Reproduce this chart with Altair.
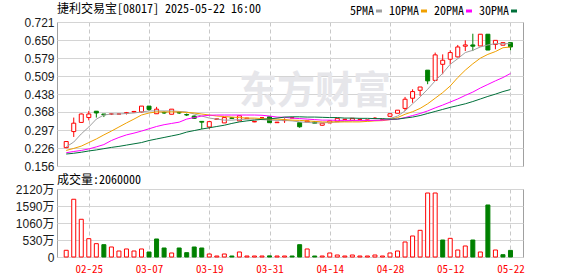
import altair as alt
import pandas as pd

# ---------------- data ----------------
dates = ["02-20", "02-21", "02-24", "02-25", "02-26", "02-27", "02-28",
         "03-03", "03-04", "03-05", "03-06", "03-07", "03-10", "03-11", "03-12", "03-13", "03-14",
         "03-17", "03-18", "03-19", "03-20", "03-21", "03-24", "03-25", "03-26", "03-27", "03-28", "03-31",
         "04-01", "04-02", "04-03", "04-08", "04-09", "04-10", "04-11", "04-14",
         "04-15", "04-16", "04-17", "04-22", "04-23", "04-24", "04-25", "04-28", "04-29", "04-30",
         "05-02", "05-06", "05-07", "05-08", "05-09", "05-12", "05-13", "05-14", "05-15", "05-16",
         "05-19", "05-20", "05-21", "05-22"]
tick_dates = ["02-25", "03-07", "03-19", "03-31", "04-14", "04-28", "05-12", "05-22"]

open_ = [0.228, 0.291, 0.327, 0.346, 0.371, 0.360, 0.360, 0.360, 0.363, 0.368,
         0.368, 0.391, 0.361, 0.366, 0.359, 0.366, 0.358, 0.352, 0.331, 0.309,
         0.339, 0.325, 0.345, 0.333, 0.342, 0.329, 0.345, 0.349, 0.326, 0.334,
         0.345, 0.326, 0.329, 0.329, 0.316, 0.325, 0.330, 0.339, 0.335, 0.339,
         0.336, 0.343, 0.339, 0.351, 0.363, 0.382, 0.422, 0.453, 0.532, 0.492,
         0.555, 0.575, 0.584, 0.626, 0.631, 0.627, 0.673, 0.633, 0.630, 0.640]
close = [0.252, 0.324, 0.360, 0.360, 0.364, 0.357, 0.360, 0.360, 0.365, 0.370,
         0.391, 0.378, 0.379, 0.364, 0.379, 0.364, 0.356, 0.343, 0.328, 0.330,
         0.341, 0.346, 0.343, 0.353, 0.344, 0.331, 0.345, 0.326, 0.328, 0.336,
         0.345, 0.310, 0.333, 0.324, 0.324, 0.333, 0.343, 0.339, 0.343, 0.339,
         0.336, 0.343, 0.339, 0.361, 0.375, 0.418, 0.448, 0.466, 0.490, 0.592,
         0.571, 0.601, 0.623, 0.631, 0.626, 0.673, 0.611, 0.649, 0.640, 0.623]
high = [0.254, 0.346, 0.362, 0.372, 0.371, 0.360, 0.362, 0.361, 0.368, 0.372,
        0.391, 0.391, 0.388, 0.370, 0.379, 0.370, 0.362, 0.354, 0.331, 0.331,
        0.342, 0.346, 0.348, 0.353, 0.345, 0.332, 0.346, 0.349, 0.329, 0.343,
        0.346, 0.326, 0.334, 0.330, 0.324, 0.334, 0.343, 0.340, 0.343, 0.340,
        0.337, 0.348, 0.340, 0.361, 0.375, 0.427, 0.457, 0.466, 0.532, 0.601,
        0.594, 0.610, 0.631, 0.649, 0.675, 0.673, 0.673, 0.649, 0.640, 0.640]
low = [0.226, 0.270, 0.327, 0.335, 0.346, 0.348, 0.356, 0.359, 0.358, 0.366,
       0.366, 0.372, 0.361, 0.360, 0.359, 0.360, 0.352, 0.341, 0.301, 0.302,
       0.338, 0.325, 0.341, 0.333, 0.342, 0.328, 0.344, 0.326, 0.325, 0.325,
       0.344, 0.306, 0.328, 0.324, 0.314, 0.325, 0.330, 0.338, 0.335, 0.338,
       0.335, 0.343, 0.338, 0.351, 0.363, 0.372, 0.404, 0.431, 0.477, 0.492,
       0.516, 0.555, 0.582, 0.607, 0.607, 0.627, 0.611, 0.614, 0.630, 0.610]

ma5 = [0.231, 0.250, 0.282, 0.309, 0.340, 0.356, 0.360, 0.360, 0.362, 0.364,
       0.368, 0.372, 0.372, 0.372, 0.372, 0.370, 0.368, 0.360, 0.352, 0.344,
       0.340, 0.336, 0.336, 0.338, 0.340, 0.340, 0.338, 0.336, 0.335, 0.335,
       0.333, 0.329, 0.327, 0.325, 0.325, 0.327, 0.329, 0.331, 0.333, 0.333,
       0.333, 0.335, 0.336, 0.342, 0.352, 0.372, 0.400, 0.427, 0.457, 0.490,
       0.520, 0.555, 0.577, 0.601, 0.610, 0.623, 0.631, 0.636, 0.636, 0.636]
ma10 = [0.217, 0.225, 0.234, 0.248, 0.262, 0.278, 0.293, 0.309, 0.325, 0.340,
        0.356, 0.364, 0.368, 0.368, 0.368, 0.368, 0.366, 0.364, 0.360, 0.356,
        0.352, 0.350, 0.348, 0.346, 0.344, 0.344, 0.342, 0.340, 0.340, 0.338,
        0.336, 0.335, 0.333, 0.331, 0.329, 0.329, 0.329, 0.329, 0.329, 0.329,
        0.331, 0.333, 0.334, 0.338, 0.346, 0.359, 0.369, 0.382, 0.400, 0.422,
        0.444, 0.470, 0.503, 0.532, 0.557, 0.579, 0.594, 0.605, 0.620, 0.623]
ma20 = [0.208, 0.213, 0.217, 0.223, 0.231, 0.240, 0.256, 0.268, 0.278, 0.285,
        0.293, 0.302, 0.311, 0.318, 0.323, 0.328, 0.340, 0.346, 0.352, 0.355,
        0.356, 0.356, 0.356, 0.356, 0.356, 0.356, 0.355, 0.352, 0.348, 0.347,
        0.344, 0.342, 0.340, 0.338, 0.336, 0.336, 0.335, 0.335, 0.335, 0.335,
        0.335, 0.335, 0.336, 0.338, 0.340, 0.346, 0.354, 0.362, 0.372, 0.384,
        0.395, 0.407, 0.419, 0.433, 0.446, 0.462, 0.476, 0.490, 0.503, 0.519]
ma30 = [0.203, 0.206, 0.210, 0.215, 0.219, 0.224, 0.229, 0.233, 0.238, 0.243,
        0.248, 0.256, 0.262, 0.268, 0.274, 0.280, 0.289, 0.295, 0.301, 0.306,
        0.311, 0.316, 0.323, 0.329, 0.333, 0.336, 0.339, 0.341, 0.344, 0.348,
        0.349, 0.349, 0.348, 0.348, 0.347, 0.346, 0.346, 0.344, 0.344, 0.343,
        0.343, 0.342, 0.342, 0.340, 0.340, 0.344, 0.348, 0.354, 0.362, 0.370,
        0.378, 0.386, 0.393, 0.400, 0.409, 0.419, 0.429, 0.438, 0.448, 0.456]

# volume in 万 (10k shares)
vol = [209, 1800, 1176, 571, 416, 384, 312, 187, 250, 187,
       250, 156, 562, 281, 125, 281, 135, 312, 281, 94,
       31, 94, 31, 156, 31, 31, 31, 35, 31, 31,
       31, 384, 250, 31, 31, 125, 62, 31, 62, 31,
       31, 62, 31, 125, 187, 468, 655, 832, 1995, 1995,
       530, 582, 218, 343, 530, 156, 1622, 218, 72, 206]
vol_up = [1, 1, 1, 1, 1, 0, 1, 1, 1, 1,
          1, 0, 0, 0, 1, 0, 0, 0, 0, 1,
          1, 1, 0, 1, 1, 1, 1, 0, 1, 1,
          0, 0, 1, 0, 1, 1, 1, 1, 1, 1,
          1, 1, 1, 1, 1, 1, 1, 1, 1, 1,
          0, 1, 1, 1, 0, 1, 0, 1, 0, 0]

price_ticks = [0.156, 0.226, 0.297, 0.368, 0.438, 0.509, 0.579, 0.650, 0.721]
vol_ticks = [0, 530, 1060, 1590, 2120]
ma_names = ["5PMA", "10PMA", "20PMA", "30PMA"]
ma_colors = ["#a0a0a0", "#f0a000", "#ff00ff", "#00703a"]
title_text = "捷利交易宝[08017] 2025-05-22 16:00"
vol_title = "成交量:2060000"
watermark = ["东方财富"]

# ---------------- tables ----------------
n = len(dates)
idx = list(range(n))
tick_pos = [dates.index(d) for d in tick_dates]

candles = pd.DataFrame({"i": idx, "date": dates, "open": open_, "high": high,
                        "low": low, "close": close})
candles["dir"] = ["up" if c >= o else "down" for o, c in zip(open_, close)]
ma_df = pd.concat([pd.DataFrame({"i": idx, "series": nm, "v": vals})
                   for nm, vals in zip(ma_names, [ma5, ma10, ma20, ma30])])
vol_df = pd.DataFrame({"i": idx, "vol": vol,
                       "dir": ["up" if u else "down" for u in vol_up]})

RED = "#ff0000"
GREEN = "#008000"
GRID = "#d4d4d4"
stroke_scale = alt.Scale(domain=["up", "down"], range=[RED, GREEN])
fill_scale = alt.Scale(domain=["up", "down"], range=["#ffffff", GREEN])
x_scale = alt.Scale(domain=[-0.56, 60.0], nice=False, zero=False)
label_expr = "[" + ",".join("'%s'" % d for d in dates) + "][datum.value]"
NUMFONT = "Liberation Sans, Noto Sans CJK SC"
MONOCJK = "Noto Sans Mono CJK SC, Noto Sans CJK SC"

x_price = alt.X("i:Q", scale=x_scale,
                axis=alt.Axis(values=tick_pos, labels=False, ticks=False, domain=False,
                              grid=True, gridDash=[4, 3], gridColor="#c8c8c8", title=None))
y_axis_price = alt.Axis(values=price_ticks, format=".3f", ticks=False, domain=False,
                        grid=True, gridColor=GRID, labelFont=NUMFONT, labelFontSize=12,
                        labelColor="#1a1a1a", labelPadding=3, title=None, minExtent=42)
y_scale_price = alt.Scale(domain=[0.156, 0.721], nice=False, zero=False)

wm = alt.Chart(pd.DataFrame({"t": watermark})).mark_text(
    font="Noto Sans CJK SC", fontSize=38, fontWeight="bold", color="#e6e6ea"
).encode(text="t:N", x=alt.value(258), y=alt.value(70))

wick = alt.Chart(candles).mark_rule(strokeWidth=1).encode(
    x=x_price,
    y=alt.Y("low:Q", scale=y_scale_price, axis=y_axis_price),
    y2="high:Q",
    stroke=alt.Stroke("dir:N", scale=stroke_scale, legend=None),
)
body = alt.Chart(candles).mark_bar(size=4, strokeWidth=1).encode(
    x=x_price,
    y=alt.Y("open:Q", scale=y_scale_price, axis=y_axis_price),
    y2="close:Q",
    stroke=alt.Stroke("dir:N", scale=stroke_scale, legend=None),
    fill=alt.Fill("dir:N", scale=fill_scale, legend=None),
)
lines = alt.Chart(ma_df).mark_line(strokeWidth=1).encode(
    x=x_price,
    y=alt.Y("v:Q", scale=y_scale_price, axis=y_axis_price),
    color=alt.Color("series:N", sort=ma_names,
                    scale=alt.Scale(domain=ma_names, range=ma_colors),
                    legend=alt.Legend(title=None, orient="none", direction="horizontal",
                                      legendX=316, legendY=-17, symbolType="stroke",
                                      symbolStrokeWidth=3, symbolSize=36,
                                      labelFont="Noto Sans Mono CJK SC, Liberation Mono",
                                      labelFontSize=12,
                                      labelColor="#000000", labelAlign="right",
                                      labelOffset={"expr": "-11"}, columnPadding=0,
                                      padding=0)),
)

price = alt.layer(wm, wick, body, lines).properties(
    width=466, height=144,
    title=alt.TitleParams(title_text, anchor="start", frame="group", font=MONOCJK,
                          fontSize=12, fontWeight="normal", color="#000000", offset=0),
)

vol_chart = alt.Chart(vol_df).mark_bar(size=4, strokeWidth=1).encode(
    x=alt.X("i:Q", scale=x_scale,
            axis=alt.Axis(values=tick_pos, labelExpr=label_expr, labelColor=RED,
                          labelFont="Noto Sans Mono CJK SC, Liberation Mono", labelFontSize=11,
                          labelPadding=6, labelFlush=False, labelOverlap=False,
                          ticks=False, domain=False, grid=True, gridDash=[4, 3],
                          gridColor="#c8c8c8", title=None)),
    y=alt.Y("vol:Q", scale=alt.Scale(domain=[0, 2120], nice=False, zero=True),
            axis=alt.Axis(values=vol_ticks,
                          labelExpr="datum.value == 0 ? '0' : datum.value + '万'",
                          ticks=False, domain=False, grid=True, gridColor=GRID,
                          labelFont=NUMFONT, labelFontSize=12, labelColor="#1a1a1a",
                          labelPadding=3, title=None, minExtent=42)),
    stroke=alt.Stroke("dir:N", scale=stroke_scale, legend=None),
    fill=alt.Fill("dir:N", scale=fill_scale, legend=None),
).properties(
    width=466, height=68,
    title=alt.TitleParams(vol_title, anchor="start", frame="group", font=MONOCJK,
                          fontSize=12, fontWeight="normal", color="#000000",
                          offset={"expr": "-4"}),
)

chart = alt.vconcat(price, vol_chart, spacing=0).properties(
    padding={"left": 14, "top": 2, "right": 4, "bottom": 2},
    background="white",
).configure_view(stroke="#a0a0a0", strokeWidth=1)

chart.save("out.html", embed_options={"renderer": "svg", "actions": False})
